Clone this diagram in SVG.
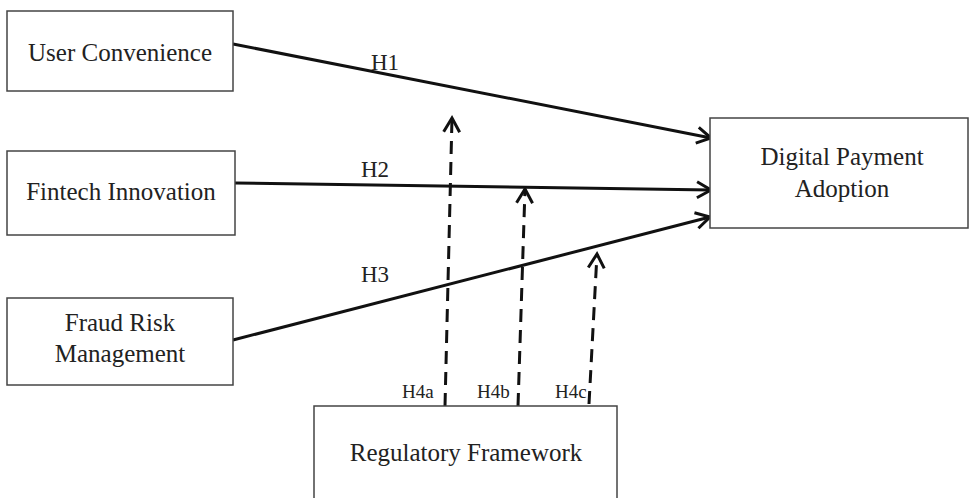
<svg xmlns="http://www.w3.org/2000/svg" width="970" height="498" viewBox="0 0 970 498">
<style>
.box{fill:#fff;stroke:#444;stroke-width:1.5}
.t{font-family:"Liberation Serif","Times New Roman",serif;font-size:25px;fill:#222;text-anchor:middle}
.h{font-family:"Liberation Serif","Times New Roman",serif;font-size:23px;fill:#222}
.hs{font-family:"Liberation Serif","Times New Roman",serif;font-size:19px;fill:#222}
.ln{fill:none;stroke:#111;stroke-width:3}
.ds{fill:none;stroke:#111;stroke-width:3;stroke-dasharray:13 8}
</style>
<defs>
<marker id="ah" markerUnits="userSpaceOnUse" markerWidth="20" markerHeight="20" refX="15" refY="9" orient="auto" overflow="visible">
<path d="M1,1 L15,9 L1,17" fill="none" stroke="#111" stroke-width="3" stroke-dasharray="none"/>
</marker>
</defs>
<rect width="970" height="498" fill="#fff"/>
<g id="connectors">
<line class="ln" x1="233" y1="44" x2="711" y2="138" marker-end="url(#ah)"/>
<line class="ln" x1="235" y1="183" x2="711" y2="190" marker-end="url(#ah)"/>
<line class="ln" x1="233" y1="340" x2="710" y2="217" marker-end="url(#ah)"/>
<line class="ds" x1="445" y1="406" x2="452" y2="118" marker-end="url(#ah)"/>
<line class="ds" x1="518" y1="406" x2="525" y2="189" marker-end="url(#ah)"/>
<line class="ds" x1="589" y1="404" x2="597" y2="254" marker-end="url(#ah)"/>
<text class="h" x="371" y="70">H1</text>
<text class="h" x="361" y="177">H2</text>
<text class="h" x="361" y="282">H3</text>
<text class="hs" x="402" y="398">H4a</text>
<text class="hs" x="477" y="398">H4b</text>
<text class="hs" x="555" y="398">H4c</text>
</g>
<g id="user-convenience">
<rect class="box" x="7" y="11" width="226" height="80"/>
<text class="t" x="120" y="61">User Convenience</text>
</g>
<g id="fintech-innovation">
<rect class="box" x="7" y="151" width="228" height="84"/>
<text class="t" x="121" y="200">Fintech Innovation</text>
</g>
<g id="fraud-risk-management">
<rect class="box" x="7" y="298" width="226" height="87"/>
<text class="t" x="120" y="331">Fraud Risk</text>
<text class="t" x="120" y="362">Management</text>
</g>
<g id="digital-payment-adoption">
<rect class="box" x="710" y="118" width="258" height="110"/>
<text class="t" x="842" y="165">Digital Payment</text>
<text class="t" x="842" y="197">Adoption</text>
</g>
<g id="regulatory-framework">
<rect class="box" x="314" y="406" width="303" height="100"/>
<text class="t" x="466" y="461">Regulatory Framework</text>
</g>
</svg>
